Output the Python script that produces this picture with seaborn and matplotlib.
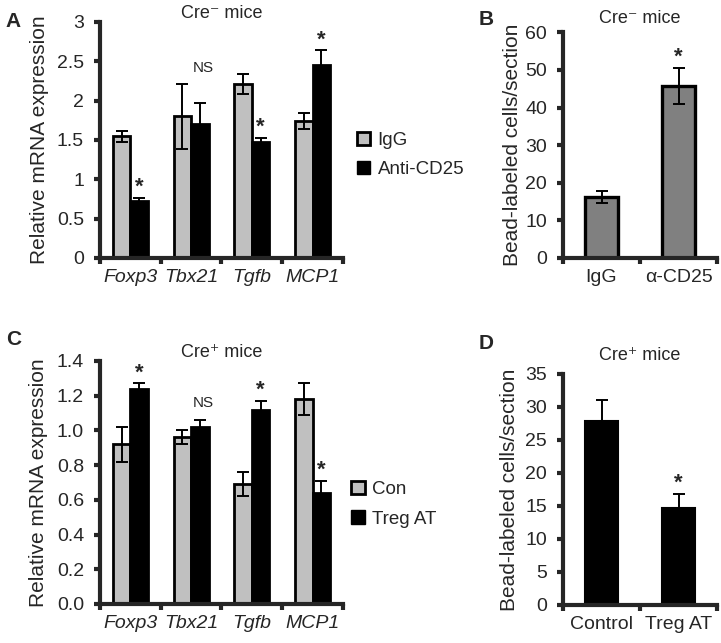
import numpy as np
import pandas as pd
import seaborn as sns
import matplotlib.pyplot as plt
from matplotlib.patches import Patch

sns.set_style("ticks")
plt.rcParams['font.family'] = ['Liberation Sans', 'DejaVu Sans']

# Panel A: Cre- mice, relative mRNA expression
genes = ['Foxp3', 'Tbx21', 'Tgfb', 'MCP1']
a_igg = [1.55, 1.80, 2.21, 1.74]
a_igg_err = [0.07, 0.41, 0.13, 0.10]
a_cd25 = [0.72, 1.70, 1.47, 2.45]
a_cd25_err = [0.04, 0.27, 0.06, 0.19]
a_stars = ['*', '', '*', '*']

# Panel B: Cre- mice, bead-labeled cells
b_groups = ['IgG', 'α-CD25']
b_vals = [16.2, 45.8]
b_err = [1.5, 4.8]
b_stars = ['', '*']

# Panel C: Cre+ mice, relative mRNA expression
c_con = [0.92, 0.96, 0.69, 1.18]
c_con_err = [0.10, 0.04, 0.07, 0.09]
c_treg = [1.24, 1.02, 1.12, 0.64]
c_treg_err = [0.03, 0.04, 0.05, 0.07]
c_stars = ['*', '', '*', '*']

# Panel D: Cre+ mice, bead-labeled cells
d_groups = ['Control', 'Treg AT']
d_vals = [27.8, 14.7]
d_err = [3.2, 2.1]
d_stars = ['', '*']

LIGHT = '#c0c0c0'
MID = '#808080'
SPINE_W = 3.0
BAR_LW = 2.0


def style_axes(ax, ymax, ystep, fmt, ncat):
    ax.set_ylim(0, ymax)
    ticks = np.arange(0, ymax + ystep / 2, ystep)
    ax.set_yticks(ticks)
    ax.set_yticklabels([fmt.format(v) for v in ticks])
    ax.set_xlim(-0.5, ncat - 0.5)
    sns.despine(ax=ax)
    for s in ['left', 'bottom']:
        ax.spines[s].set_linewidth(SPINE_W)
    ax.tick_params(axis='y', which='major', length=4.5, width=SPINE_W, labelsize=14, pad=7)
    ax.set_xticks(np.arange(-0.5, ncat, 1.0))
    ax.set_xticklabels([])
    ax.tick_params(axis='x', which='major', length=4.5, width=SPINE_W)
    ax.set_xticks(np.arange(ncat), minor=True)
    ax.tick_params(axis='x', which='minor', length=0, pad=8, labelsize=14)


def add_errors(ax, errs_by_hue, stars_by_hue):
    bar_sets = list(ax.containers)[:len(errs_by_hue)]
    for i, cont in enumerate(bar_sets):
        errs = errs_by_hue[i]
        for j, bar in enumerate(cont):
            x = bar.get_x() + bar.get_width() / 2
            h = bar.get_height()
            ax.errorbar(x, h, yerr=errs[j], color='black', elinewidth=1.4,
                        capsize=4.5, capthick=1.4, zorder=5)
            if stars_by_hue[i][j]:
                ax.annotate('*', (x, h + errs[j]), xytext=(0, 0), textcoords='offset points',
                            ha='center', va='bottom', fontsize=16, fontweight='bold')


def add_legend(ax, labels, x, y):
    ax.legend(handles=[Patch(facecolor=LIGHT, edgecolor='black', linewidth=BAR_LW, label=labels[0]),
                       Patch(facecolor='black', edgecolor='black', label=labels[1])],
              loc='center left', bbox_to_anchor=(x, y), frameon=False, fontsize=13.5,
              handlelength=0.7, handleheight=0.7, handletextpad=0.4, labelspacing=0.65,
              borderpad=0, borderaxespad=0)


fig = plt.figure(figsize=(7.21, 6.43), dpi=100)
axA = fig.add_axes([0.1387, 0.5988, 0.337, 0.367])
axB = fig.add_axes([0.7809, 0.5988, 0.2136, 0.351])
axC = fig.add_axes([0.1387, 0.0607, 0.337, 0.378])
axD = fig.add_axes([0.7809, 0.0591, 0.2136, 0.3593])
no_stars = [''] * 4

# A
dfA = pd.DataFrame({'gene': genes * 2, 'value': a_igg + a_cd25,
                    'group': ['IgG'] * 4 + ['Anti-CD25'] * 4})
sns.barplot(data=dfA, x='gene', y='value', hue='group', ax=axA, width=0.58,
            palette=[LIGHT, 'black'], edgecolor='black', linewidth=BAR_LW,
            errorbar=None, legend=False)
add_errors(axA, [a_igg_err, a_cd25_err], [no_stars, a_stars])
style_axes(axA, 3, 0.5, '{:g}', 4)
axA.set_xticklabels(genes, minor=True, style='italic')
axA.set_xlabel('')
axA.set_ylabel('Relative mRNA expression', fontsize=15)
axA.yaxis.set_label_coords(-0.21, 0.5)
axA.text(1.2, 2.33, 'NS', ha='center', va='bottom', fontsize=11)
axA.set_title('Cre⁻ mice', fontsize=13, pad=2)
add_legend(axA, ['IgG', 'Anti-CD25'], 1.058, 0.436)

# B
dfB = pd.DataFrame({'grp': b_groups, 'value': b_vals})
sns.barplot(data=dfB, x='grp', y='value', ax=axB, width=0.43, color=MID,
            edgecolor='black', linewidth=2.4, errorbar=None)
add_errors(axB, [b_err], [b_stars])
style_axes(axB, 60, 10, '{:g}', 2)
axB.set_xticklabels(b_groups, minor=True)
axB.set_xlabel('')
axB.set_ylabel('Bead-labeled cells/section', fontsize=15)
axB.yaxis.set_label_coords(-0.266, 0.5)
axB.set_title('Cre⁻ mice', fontsize=13, pad=7)

# C
dfC = pd.DataFrame({'gene': genes * 2, 'value': c_con + c_treg,
                    'group': ['Con'] * 4 + ['Treg AT'] * 4})
sns.barplot(data=dfC, x='gene', y='value', hue='group', ax=axC, width=0.58,
            palette=[LIGHT, 'black'], edgecolor='black', linewidth=BAR_LW,
            errorbar=None, legend=False)
add_errors(axC, [c_con_err, c_treg_err], [no_stars, c_stars])
style_axes(axC, 1.4, 0.2, '{:.1f}', 4)
axC.set_xticklabels(genes, minor=True, style='italic')
axC.set_xlabel('')
axC.set_ylabel('Relative mRNA expression', fontsize=15)
axC.yaxis.set_label_coords(-0.214, 0.5)
axC.text(1.2, 1.12, 'NS', ha='center', va='bottom', fontsize=11)
axC.set_title('Cre⁺ mice', fontsize=13, pad=2)
add_legend(axC, ['Con', 'Treg AT'], 1.035, 0.41)

# D
dfD = pd.DataFrame({'grp': d_groups, 'value': d_vals})
sns.barplot(data=dfD, x='grp', y='value', ax=axD, width=0.43, color='black',
            edgecolor='black', linewidth=1.5, errorbar=None)
add_errors(axD, [d_err], [d_stars])
style_axes(axD, 35, 5, '{:g}', 2)
axD.set_xticklabels(d_groups, minor=True)
axD.set_xlabel('')
axD.set_ylabel('Bead-labeled cells/section', fontsize=15)
axD.yaxis.set_label_coords(-0.286, 0.5)
axD.set_title('Cre⁺ mice', fontsize=13, pad=10)

# panel letters
for lbl, x, y in [('A', 0.008, 0.982), ('B', 0.664, 0.985), ('C', 0.008, 0.487), ('D', 0.664, 0.48)]:
    fig.text(x, y, lbl, fontsize=15, fontweight='bold', va='top')

fig.savefig('out.png', dpi=100)
